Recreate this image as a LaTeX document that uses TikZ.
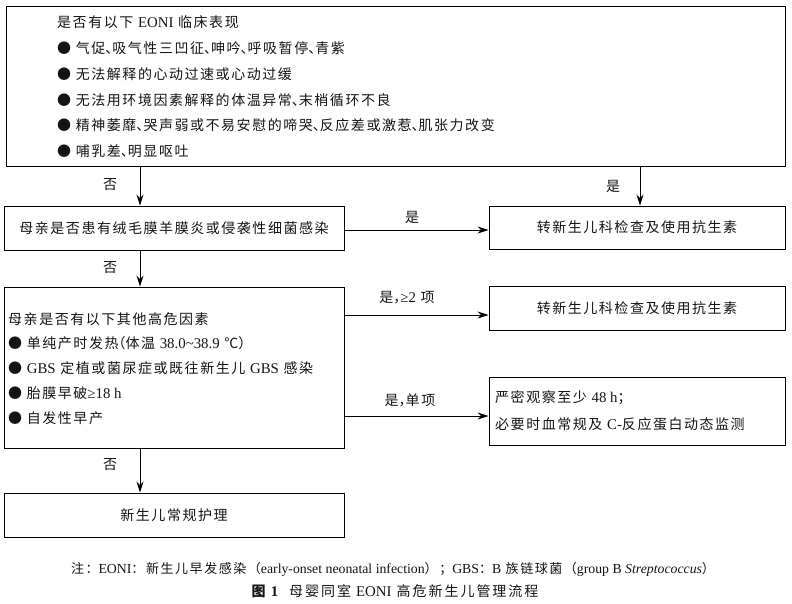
\documentclass[tikz,border=0pt]{standalone}
\usepackage{fontspec}
\setmainfont{Liberation Serif}[Scale=1.06]
\newfontfamily\cjk[LetterSpace=11]{Noto Sans CJK SC}
\newfontfamily\cjkc[LetterSpace=12]{Noto Sans CJK SC}
\newfontfamily\cjkt[LetterSpace=14]{Noto Sans CJK SC}
\usetikzlibrary{arrows.meta}
\newcommand{\enx}[1]{{\rmfamily #1}}
\newcommand{\hp}[1]{{\addfontfeatures{RawFeature=+halt}#1}}
\newcommand{\bodyfs}{\fontsize{14pt}{16pt}\cjk\color{black!92}}
\newcommand{\capfs}{\fontsize{13pt}{15pt}\cjkc\color{black!92}}
\newcommand{\titfs}{\fontsize{14pt}{16pt}\cjkt\color{black!92}}
\begin{document}
\begin{tikzpicture}[x=1pt,y=-1pt,
  box/.style={draw, line width=0.9pt, inner sep=0pt},
  txt/.style={inner sep=0pt, anchor=base west, font=\bodyfs},
  ctxt/.style={inner sep=0pt, font=\bodyfs},
  lbl/.style={inner sep=0pt, font=\bodyfs},
  captxt/.style={inner sep=0pt, font=\capfs},
  tittxt/.style={inner sep=0pt, font=\titfs},
  arr/.style={line width=0.9pt, -{Stealth[length=11pt,width=7pt,inset=3.5pt]}}]
\useasboundingbox (0,0) rectangle (792,603);
% boxes
\node[box, minimum width=779pt, minimum height=160pt] (b1) at (395.5,86) {};
\node[box, minimum width=340pt, minimum height=44pt] (b2) at (174,228) {};
\node[box, minimum width=296pt, minimum height=43pt] (b3) at (637,227.5) {};
\node[box, minimum width=340pt, minimum height=161pt] (b4) at (174,367.5) {};
\node[box, minimum width=296pt, minimum height=44pt] (b5) at (637,308) {};
\node[box, minimum width=296pt, minimum height=68pt] (b6) at (637,411) {};
\node[box, minimum width=340pt, minimum height=44pt] (b7) at (174,515) {};
% box 1 text
\node[txt] (t10) at (57,27) {是否有以下 \enx{EONI} 临床表现};
\node[txt] (t11) at (57,53.5) {● 气促\hp{、}吸气性三凹征\hp{、}呻吟\hp{、}呼吸暂停\hp{、}青紫};
\node[txt] (t12) at (57,79) {● 无法解释的心动过速或心动过缓};
\node[txt] (t13) at (57,105) {● 无法用环境因素解释的体温异常\hp{、}末梢循环不良};
\node[txt] (t14) at (57,130.5) {● 精神萎靡\hp{、}哭声弱或不易安慰的啼哭\hp{、}反应差或激惹\hp{、}肌张力改变};
\node[txt] (t15) at (57,156) {● 哺乳差\hp{、}明显呕吐};
% box texts
\node[ctxt] (t2) at (b2) {母亲是否患有绒毛膜羊膜炎或侵袭性细菌感染};
\node[ctxt] (t3) at (b3) {转新生儿科检查及使用抗生素};
\node[txt] (t40) at (8,324) {母亲是否有以下其他高危因素};
\node[txt] (t41) at (8,348) {● 单纯产时发热\hp{（}体温 \enx{38.0\textasciitilde 38.9} ℃\hp{）}};
\node[txt] (t42) at (8,373) {● \enx{GBS} 定植或菌尿症或既往新生儿 \enx{GBS} 感染};
\node[txt] (t43) at (8,398) {● 胎膜早破\enx{≥18 h}};
\node[txt] (t44) at (8,423) {● 自发性早产};
\node[ctxt] (t5) at (b5) {转新生儿科检查及使用抗生素};
\node[txt] (t61) at (495,402) {严密观察至少 \enx{48 h}；};
\node[txt] (t62) at (495,429) {必要时血常规及 \enx{C-}反应蛋白动态监测};
\node[ctxt] (t7) at (b7) {新生儿常规护理};
% connector coordinates
\coordinate (xa) at (140,0);
\coordinate (xb) at (640,0);
\coordinate (ya) at (0,230);
\coordinate (yb) at (0,315);
\coordinate (yc) at (0,416);
% connectors
\draw[arr] (b1.south -| xa) -- (b2.north -| xa);
\draw[arr] (b1.south -| xb) -- (b3.north -| xb);
\draw[arr] (b2.east |- ya) -- (b3.west |- ya);
\draw[arr] (b2.south -| xa) -- (b4.north -| xa);
\draw[arr] (b4.east |- yb) -- (b5.west |- yb);
\draw[arr] (b4.east |- yc) -- (b6.west |- yc);
\draw[arr] (b4.south -| xa) -- (b7.north -| xa);
% labels
\node[lbl] (l1) at (110,185) {否};
\node[lbl] (l2) at (613,186) {是};
\node[lbl] (l3) at (412,217) {是};
\node[lbl] (l4) at (110,268) {否};
\node[lbl] (l5) at (407,298) {是\hp{，}\enx{≥2} 项};
\node[lbl] (l6) at (410,400) {是\hp{，}单项};
\node[lbl] (l7) at (110,465) {否};
% caption
\node[captxt] (c1) at (393,569) {注：\enx{EONI}：新生儿早发感染（\enx{early-onset neonatal infection}）；\enx{GBS}：\enx{B} 族链球菌（\enx{group B \textit{Streptococcus}}）};
\node[tittxt] (c2) at (395,591) {{\bfseries 图 \enx{1}}\hspace{11pt}母婴同室 \enx{EONI} 高危新生儿管理流程};
\end{tikzpicture}
\end{document}
